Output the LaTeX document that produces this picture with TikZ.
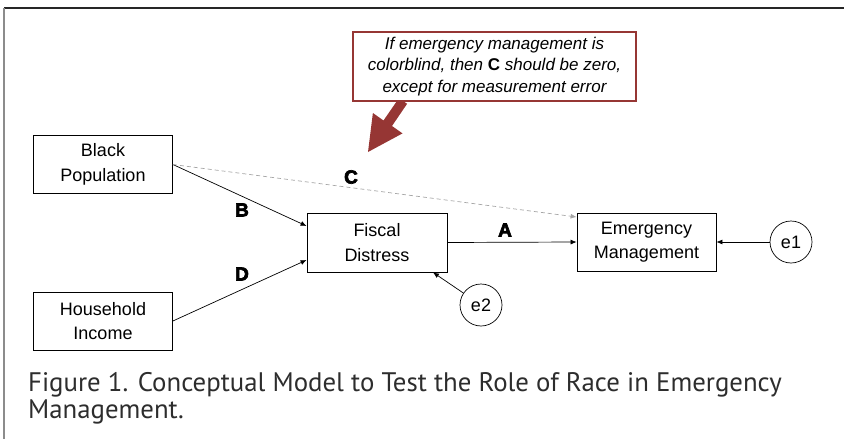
\documentclass[tikz,border=0pt]{standalone}
\usepackage{fontspec}
\setmainfont{Liberation Sans}
\newfontfamily\capfont{PT Sans}
\newfontfamily\heavyfont{Liberation Sans}[BoldFeatures={FakeBold=3.5}]
\usetikzlibrary{arrows.meta,calc}
\definecolor{callred}{RGB}{150,54,52}
\definecolor{capgray}{RGB}{45,45,45}
\begin{document}
\begin{tikzpicture}[x=1pt,y=-1pt,
  box/.style={draw,line width=0.8pt,minimum width=139pt,minimum height=58pt,align=center,
    inner sep=0pt,font=\fontsize{18}{24.5}\selectfont},
  err/.style={draw,circle,minimum size=42pt,inner sep=0pt,line width=0.7pt,font=\fontsize{18}{20}\selectfont},
  arr/.style={-{Latex[length=6pt,width=5pt]},line width=0.7pt},
  lab/.style={font=\heavyfont\fontsize{19}{20}\selectfont\bfseries},
  callout/.style={draw=callred,line width=2pt,fill=white,minimum width=283pt,minimum height=69pt,
    align=center,inner sep=0pt,font=\fontsize{17}{21.5}\selectfont\itshape}]
\useasboundingbox (0,0) rectangle (844,439);
% frame
\coordinate (ftl) at (4,8);
\coordinate (ftr) at (844,8);
\coordinate (fbl) at (4,439);
\draw[line width=1.4pt,black!85] (ftl) -- (ftr);
\draw[line width=1.4pt,black!45] (ftl) -- (fbl);

% nodes
\node[box] (bp) at (103,164.5) {Black\\Population};
\node[box] (hi) at (103,321) {Household\\Income};
\node[box,minimum width=140pt,minimum height=59pt] (fd) at (377,242.5) {Fiscal\\Distress};
\node[box] (em) at (646.5,242) {Emergency\\Management};
\node[err] (e1) at (791,242) {e1};
\node[err] (e2) at (481,305) {e2};

% callout arrow
\coordinate (cs1) at (407.1,103.8);
\coordinate (cs2) at (398.9,98.2);
\coordinate (cb1) at (392.0,126.0);
\coordinate (cb2) at (383.5,120.5);
\coordinate (ch1) at (402.5,133.4);
\coordinate (ch2) at (372.9,113.0);
\coordinate (ctip) at (368,152);
\fill[callred] (cs2) -- (cs1) -- (cb1) -- (ch1) -- (ctip) -- (ch2) -- (cb2) -- cycle;
\node[callout] (co) at (494.5,66.5) {If emergency management is\\colorblind, then {\upshape\bfseries C} should be zero,\\except for measurement error};

% connectors
\draw[arr] (bp.east) -- ([yshift=16.5pt]fd.west);
\draw[arr] (hi.east) -- ([yshift=-17.5pt]fd.west);
\draw[arr] (fd.east) -- (em.west);
\draw[arr] (e1) -- (em.east);
\draw[arr] (e2) -- ([xshift=56pt]fd.south);
\draw[-{Latex[length=6pt,width=5pt]},line width=0.7pt,gray!70,dash pattern=on 4pt off 3pt]
  (bp.east) -- ([yshift=25pt]em.west);

% labels
\node[lab] (lA) at (505,230) {A};
\node[lab] (lB) at (242,210) {B};
\node[lab] (lC) at (351,177) {C};
\node[lab] (lD) at (242,274) {D};

% caption
\node[anchor=west,align=left,text=capgray,inner sep=0pt,
  font=\capfont\fontsize{26.8}{27}\selectfont] (cap) at (28,398.5)
  {Figure 1. Conceptual Model to Test the Role of Race in Emergency\\Management.};
\end{tikzpicture}
\end{document}
